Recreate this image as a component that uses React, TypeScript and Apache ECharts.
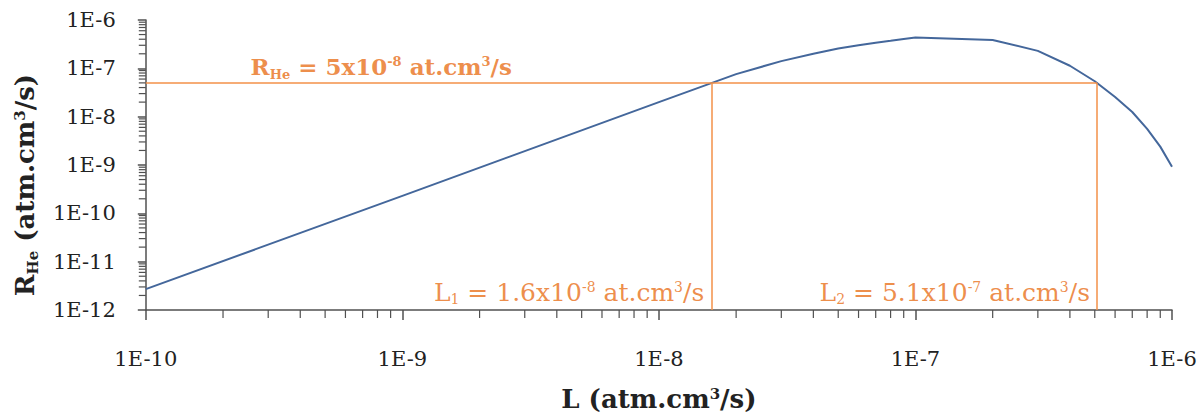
import React, { useEffect, useRef } from 'react';
import * as echarts from 'echarts';

// ---- data ----
const lValues = [1e-10, 1e-9, 1e-8, 2e-8, 3e-8, 4e-8, 5e-8, 6e-8, 7e-8, 8e-8, 9e-8, 1e-7, 2e-7, 3e-7, 4e-7, 5e-7, 6e-7, 7e-7, 8e-7, 9e-7, 1e-6];
const rHeValues = [2.7e-12, 2.3e-10, 2.0e-8, 7.6e-8, 1.41e-7, 2.01e-7, 2.57e-7, 3.0e-7, 3.39e-7, 3.72e-7, 4.04e-7, 4.34e-7, 3.87e-7, 2.3e-7, 1.13e-7, 5.4e-8, 2.55e-8, 1.25e-8, 5.6e-9, 2.4e-9, 9.2e-10];
const rThreshold = 5e-8;
const l1 = 1.6e-8;
const l2 = 5.1e-7;
const xMin = 1e-10;
const xMax = 1e-6;
const yMin = 1e-12;
const yMax = 1e-6;
const xDecades = [-10, -9, -8, -7];
const yDecades = [-12, -11, -10, -9, -8, -7];
const minorMultipliers = [2, 3, 4, 5, 6, 7, 8, 9];
const rLabelAnchorX = 2.56e-10;

const SERIF = '"DejaVu Serif", "Liberation Serif", serif';
const AXIS_COLOR = '#505050';
const LINE_COLOR = '#44679B';
const ORANGE = '#E9701A';
const ORANGE_LINE = '#F39048';

const xMinor = xDecades.flatMap((d) => minorMultipliers.map((m) => m * Math.pow(10, d)));
const yMinor = yDecades.flatMap((d) => minorMultipliers.map((m) => m * Math.pow(10, d)));

const fmtExp = (v: number) => '1E' + Math.round(Math.log10(v));

const annRich = (weight: string, size: number) => ({
  m: { fontFamily: SERIF, fontSize: size, fontWeight: weight, color: ORANGE, lineHeight: 32, verticalAlign: 'middle' },
  sub: { fontFamily: SERIF, fontSize: Math.round(size * 0.58), fontWeight: weight, color: ORANGE, lineHeight: 32, verticalAlign: 'bottom', padding: [0, 0, 2, 0] },
  sup: { fontFamily: SERIF, fontSize: Math.round(size * 0.58), fontWeight: weight, color: ORANGE, lineHeight: 32, verticalAlign: 'top', padding: [4, 0, 0, 0] },
});

const titleRich = {
  b: { fontFamily: SERIF, fontSize: 26, fontWeight: 'bold', color: '#222', lineHeight: 34 },
  sub: { fontFamily: SERIF, fontSize: 15, fontWeight: 'bold', color: '#222', lineHeight: 34, verticalAlign: 'bottom', padding: [0, 0, 2, 0] },
  sup: { fontFamily: SERIF, fontSize: 15, fontWeight: 'bold', color: '#222', lineHeight: 34, verticalAlign: 'top', padding: [4, 0, 0, 0] },
};

export default function App() {
  const ref = useRef<HTMLDivElement>(null);

  useEffect(() => {
    if (!ref.current) return;
    const chart = echarts.init(ref.current, null, { renderer: 'svg' });
    const option: any = {
      animation: false,
      backgroundColor: '#ffffff',
      grid: { left: 143, right: 28, top: 20, bottom: 105, containLabel: false },
      xAxis: {
        type: 'log',
        logBase: 10,
        min: xMin,
        max: xMax,
        splitNumber: 4,
        name: '{b|L (atm.cm}{sup|3}{b|/s)}',
        nameLocation: 'middle',
        nameGap: 72,
        nameTextStyle: { rich: titleRich },
        axisLine: { show: true, lineStyle: { color: AXIS_COLOR, width: 1.5 } },
        axisTick: { show: true, inside: false, length: 10, lineStyle: { color: AXIS_COLOR, width: 1.5 } },
        axisLabel: { formatter: fmtExp, fontFamily: SERIF, fontSize: 21, color: '#222', margin: 38 },
        splitLine: { show: false },
      },
      yAxis: {
        type: 'log',
        logBase: 10,
        min: yMin,
        max: yMax,
        splitNumber: 6,
        name: '{b|R}{sub|He}{b| (atm.cm}{sup|3}{b|/s)}',
        nameLocation: 'middle',
        nameRotate: 90,
        nameGap: 98,
        nameTextStyle: { rich: titleRich, padding: [0, 40, 0, 0] },
        axisLine: { show: true, lineStyle: { color: AXIS_COLOR, width: 1.5 } },
        axisTick: { show: true, inside: false, length: 8, lineStyle: { color: AXIS_COLOR, width: 1.5 } },
        axisLabel: { formatter: fmtExp, fontFamily: SERIF, fontSize: 21, color: '#222', margin: 30 },
        splitLine: { show: false },
      },
      series: [
        {
          type: 'custom',
          name: 'xMinorTicks',
          clip: false,
          silent: true,
          z: 1,
          data: xMinor.map((v) => [v, yMin]),
          renderItem: (_p: any, api: any) => {
            const p = api.coord([api.value(0), yMin]);
            return {
              type: 'line',
              shape: { x1: p[0], y1: p[1], x2: p[0], y2: p[1] + 8 },
              style: { stroke: AXIS_COLOR, lineWidth: 1.2 },
            };
          },
        },
        {
          type: 'custom',
          name: 'yMinorTicks',
          clip: false,
          silent: true,
          z: 1,
          data: yMinor.map((v) => [xMin, v]),
          renderItem: (_p: any, api: any) => {
            const p = api.coord([xMin, api.value(1)]);
            return {
              type: 'line',
              shape: { x1: p[0] - 7, y1: p[1], x2: p[0], y2: p[1] },
              style: { stroke: AXIS_COLOR, lineWidth: 1.2 },
            };
          },
        },
        {
          type: 'line',
          name: 'RHe',
          data: lValues.map((x, i) => [x, rHeValues[i]]),
          showSymbol: false,
          symbol: 'none',
          smooth: false,
          z: 3,
          lineStyle: { color: LINE_COLOR, width: 2 },
          markLine: {
            silent: true,
            symbol: 'none',
            label: { show: false },
            lineStyle: { color: ORANGE_LINE, width: 1.5, type: 'solid' },
            data: [
              [{ coord: [xMin, rThreshold] }, { coord: [l2, rThreshold] }],
              [{ coord: [l1, yMin] }, { coord: [l1, rThreshold] }],
              [{ coord: [l2, yMin] }, { coord: [l2, rThreshold] }],
            ],
          },
        },
        {
          type: 'scatter',
          name: 'annotations',
          symbolSize: 0,
          silent: true,
          z: 4,
          data: [
            {
              value: [rLabelAnchorX, rThreshold],
              label: {
                show: true,
                position: 'top',
                align: 'left',
                distance: 0,
                color: ORANGE,
                formatter: '{m|R}{sub|He}{m| = 5x10}{sup|-8}{m| at.cm}{sup|3}{m|/s}',
                rich: annRich('bold', 23),
              },
            },
            {
              value: [l1, yMin],
              label: {
                show: true,
                position: 'top',
                align: 'right',
                distance: 2,
                offset: [-7, 0],
                color: ORANGE,
                formatter: '{m|L}{sub|1}{m| = 1.6x10}{sup|-8}{m| at.cm}{sup|3}{m|/s}',
                rich: annRich('normal', 25),
              },
            },
            {
              value: [l2, yMin],
              label: {
                show: true,
                position: 'top',
                align: 'right',
                distance: 2,
                offset: [-7, 0],
                color: ORANGE,
                formatter: '{m|L}{sub|2}{m| = 5.1x10}{sup|-7}{m| at.cm}{sup|3}{m|/s}',
                rich: annRich('normal', 25),
              },
            },
          ],
        },
      ],
    };
    chart.setOption(option);
    return () => chart.dispose();
  }, []);

  return (
    <div
      ref={ref}
      style={{ position: 'fixed', left: 0, top: 0, width: 1200, height: 417, background: '#fff' }}
    />
  );
}
